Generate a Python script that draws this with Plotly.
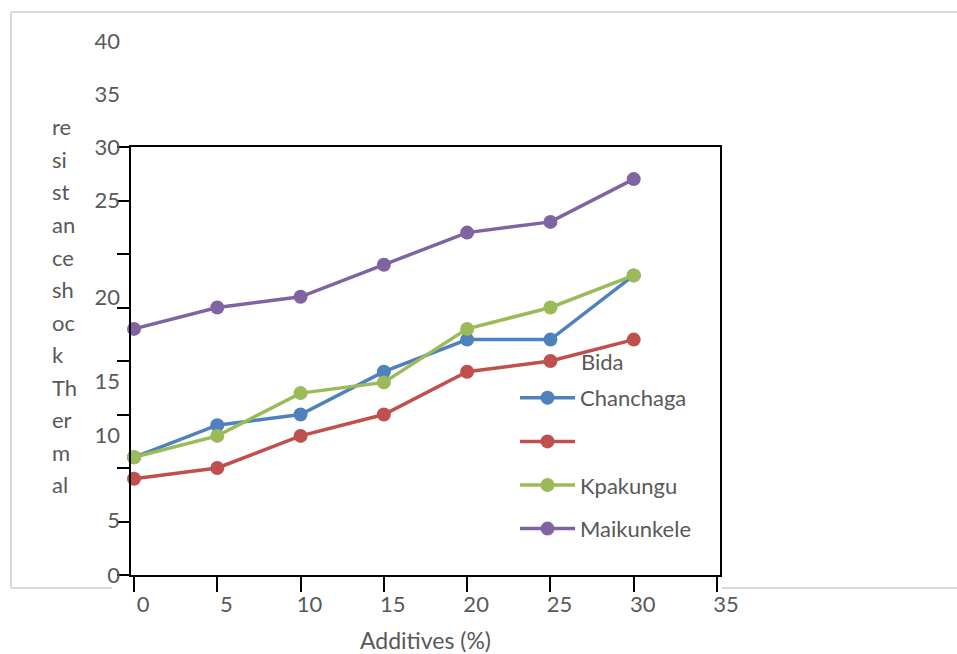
import plotly.graph_objects as go

# ---------------- data ----------------
additives = [0, 5, 10, 15, 20, 25, 30]
chanchaga = [11, 14, 15, 19, 22, 22, 28]
bida = [9, 10, 13, 15, 19, 20, 22]
kpakungu = [11, 13, 17, 18, 23, 25, 28]
maikunkele = [23, 25, 26, 29, 32, 33, 37]

y_tick_text = ["0", "5", "10", "15", "20", "25", "30", "35", "40"]
x_tick_vals = [0, 5, 10, 15, 20, 25, 30, 35]
title_chunks = ["re", "si", "st", "an", "ce", "sh", "oc", "k", "Th", "er", "m", "al"]

# ---------------- layout constants ----------------
W, H = 957, 654
L, R, T, B = 131, 720, 40, 575          # plot area in px
FRAME_TOP = 147                          # top of main y axis
FONT = "Lato"
GREY = "#595959"
FS = 22

def px_x(px):
    return (px - L) / (R - L)

def px_y(py):
    return (B - py) / (B - T)

# garbled label positions of the printed y scale (in label-axis units, 10.7 px/unit)
y_label_pos = [0, 5.1, 13.1, 18.1, 26.0, 35.0, 40.0, 44.9, 49.9]

colors = {"blue": "#4F81BD", "red": "#C0504D", "green": "#9BBB59", "purple": "#8064A2"}

fig = go.Figure()

def add(name, ys, color, legend=True):
    fig.add_trace(go.Scatter(
        x=additives, y=ys, name=name, mode="lines+markers",
        line=dict(color=color, width=3.5),
        marker=dict(color=color, size=14),
        legendgroup=name if name.strip() else "bida",
        showlegend=legend,
        cliponaxis=False,
    ))

add("Chanchaga", chanchaga, colors["blue"])
add(" ", bida, colors["red"])
add("Kpakungu", kpakungu, colors["green"])
add("Maikunkele", maikunkele, colors["purple"])

# separate axis only carrying the printed (shifted) y labels
fig.add_trace(go.Scatter(x=[None], y=[None], yaxis="y2", showlegend=False, hoverinfo="skip"))

fig.update_layout(
    width=W, height=H,
    margin=dict(l=L, r=W - R, t=T, b=H - B, pad=0, autoexpand=False),
    paper_bgcolor="white", plot_bgcolor="rgba(0,0,0,0)",
    font=dict(family=FONT, size=FS, color=GREY),
    xaxis=dict(
        range=[-0.18, 35.18], tickvals=x_tick_vals, automargin=False,
        showline=True, linecolor="black", linewidth=2, mirror=True,
        ticks="outside", ticklen=15, tickwidth=2, tickcolor="black",
        showgrid=False, zeroline=False,
        ticklabelshift=9, ticklabelstandoff=-6,
        tickfont=dict(size=FS, color=GREY),
        title=dict(text="Additives (%)", font=dict(size=FS + 1, color=GREY), standoff=16),
    ),
    yaxis=dict(
        domain=[0, px_y(FRAME_TOP)], automargin=False,
        range=[0, 40], dtick=5,
        showline=True, linecolor="black", linewidth=2, mirror=True,
        ticks="outside", ticklen=12, tickwidth=2, tickcolor="black",
        showticklabels=False, showgrid=False, zeroline=False,
    ),
    yaxis2=dict(
        anchor="x", side="left", automargin=False,
        domain=[0, 1], range=[0, 50],
        tickvals=y_label_pos, ticktext=y_tick_text,
        showline=False, ticks="", showgrid=False, zeroline=False,
        ticklabelstandoff=10,
        tickfont=dict(size=FS, color=GREY),
    ),
    legend=dict(
        x=px_x(515), xanchor="left", y=px_y(377), yanchor="top",
        bgcolor="rgba(0,0,0,0)", traceorder="grouped", tracegroupgap=12,
        font=dict(size=FS, color=GREY), itemwidth=55,
    ),
    showlegend=True,
)

annotations = []
# vertical stack of the broken axis title
top_c, step = 127, 32.5
for i, chunk in enumerate(title_chunks):
    annotations.append(dict(
        text=chunk, xref="paper", yref="paper", x=px_x(50), y=px_y(top_c + i * step),
        xanchor="left", yanchor="middle", showarrow=False,
        font=dict(size=FS, color=GREY, family=FONT)))
# legend label printed without a symbol
annotations.append(dict(
    text="Bida", xref="paper", yref="paper", x=px_x(579), y=px_y(361),
    xanchor="left", yanchor="middle", showarrow=False,
    font=dict(size=FS, color=GREY, family=FONT)))
fig.update_layout(annotations=annotations)

# light grey chart-area border (partly hidden)
g = dict(color="#D9D9D9", width=2)
shapes = [
    dict(type="line", xref="paper", yref="paper", x0=px_x(11), x1=px_x(W), y0=px_y(12), y1=px_y(12), line=g),
    dict(type="line", xref="paper", yref="paper", x0=px_x(11), x1=px_x(11), y0=px_y(12), y1=px_y(588), line=g),
    dict(type="line", xref="paper", yref="paper", x0=px_x(11), x1=px_x(112), y0=px_y(588), y1=px_y(588), line=g),
    dict(type="line", xref="paper", yref="paper", x0=px_x(722), x1=px_x(W), y0=px_y(588), y1=px_y(588), line=g),
]
fig.update_layout(shapes=shapes)

fig.write_html("out.html")
